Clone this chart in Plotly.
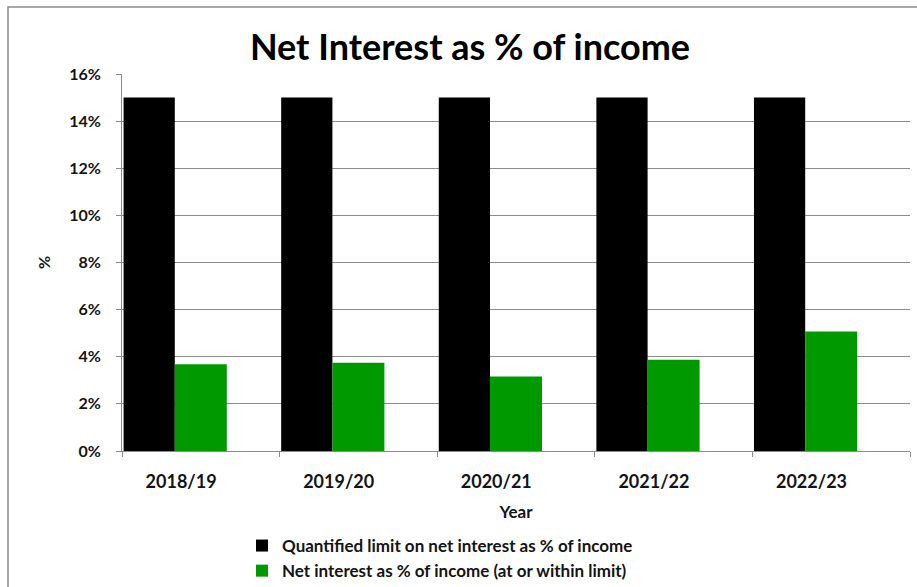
import plotly.graph_objects as go

# Financial years and series values (percent of income)
years = ["2018/19", "2019/20", "2020/21", "2021/22", "2022/23"]
limit_pct = [15, 15, 15, 15, 15]
net_interest_pct = [3.68, 3.75, 3.16, 3.87, 5.07]
y_ticks = [0, 2, 4, 6, 8, 10, 12, 14, 16]
y_tick_labels = [f"{v}%" for v in y_ticks]

idx = list(range(len(years)))
FONT = "Lato"
TEXT = "#141414"
GRID = "#8c8c8c"

fig = go.Figure()
fig.add_trace(go.Bar(
    x=idx, y=limit_pct, name="<b>Quantified limit on net interest as % of income</b>",
    marker=dict(color="#000000", line=dict(width=0)),
    offset=-0.49, width=0.325,
))
fig.add_trace(go.Bar(
    x=idx, y=net_interest_pct, name="<b>Net interest as % of income (at or within limit)</b>",
    marker=dict(color="#009900", line=dict(width=0)),
    offset=-0.165, width=0.33,
))

W, H = 917, 587
L, R, T, B = 122, 7, 74, 136
pw, ph = W - L - R, H - T - B

fig.update_layout(
    width=W, height=H,
    margin=dict(l=L, r=R, t=T, b=B, autoexpand=False),
    paper_bgcolor="white", plot_bgcolor="white",
    barmode="overlay",
    font=dict(family=FONT, color=TEXT),
    title=dict(text="<b>Net Interest as % of income</b>", x=470 / W, xanchor="center",
               y=1 - 47 / H, yanchor="middle",
               font=dict(family=FONT, size=36, color="#000000")),
    xaxis=dict(
        range=[-0.5, 4.5], tickvals=[i - 0.125 for i in idx],
        ticktext=[f"<b>{y}</b>" for y in years],
        ticks="", showgrid=False, zeroline=False, automargin=False,
        showline=True, linecolor=GRID, linewidth=1,
        ticklabelstandoff=14,
        tickfont=dict(family=FONT, size=18, color=TEXT),
        minor=dict(tick0=-0.5, dtick=1, ticks="outside", ticklen=5,
                   tickcolor=GRID, showgrid=False),
        title=dict(text="<b>Year</b>", font=dict(family=FONT, size=17, color=TEXT),
                   standoff=15),
    ),
    yaxis=dict(
        range=[0, 16], tickvals=y_ticks, ticktext=[f"<b>{t}</b>" for t in y_tick_labels],
        ticks="outside", ticklen=5, tickcolor=GRID, automargin=False,
        showgrid=True, gridcolor=GRID, gridwidth=1,
        showline=True, linecolor=GRID, linewidth=1, zeroline=False,
        ticklabelstandoff=12,
        tickfont=dict(family=FONT, size=16, color=TEXT),
        title=dict(text="<b>%</b>", font=dict(family=FONT, size=16, color=TEXT),
                   standoff=14),
    ),
    legend=dict(
        orientation="v", x=(242 - L) / pw, xanchor="left",
        y=-(528 - (T + ph)) / ph, yanchor="top",
        font=dict(family=FONT, size=17, color=TEXT),
        itemwidth=30, tracegroupgap=0, bgcolor="rgba(0,0,0,0)",
    ),
    shapes=[dict(
        type="rect", xref="paper", yref="paper",
        x0=(8 - L) / pw, x1=(W + 20 - L) / pw,
        y0=-(H + 20 - (T + ph)) / ph, y1=1 + (T - 7) / ph,
        line=dict(color="#8a8a8a", width=1.5), fillcolor="rgba(0,0,0,0)", layer="below",
    )],
)

fig.write_html("out.html")
